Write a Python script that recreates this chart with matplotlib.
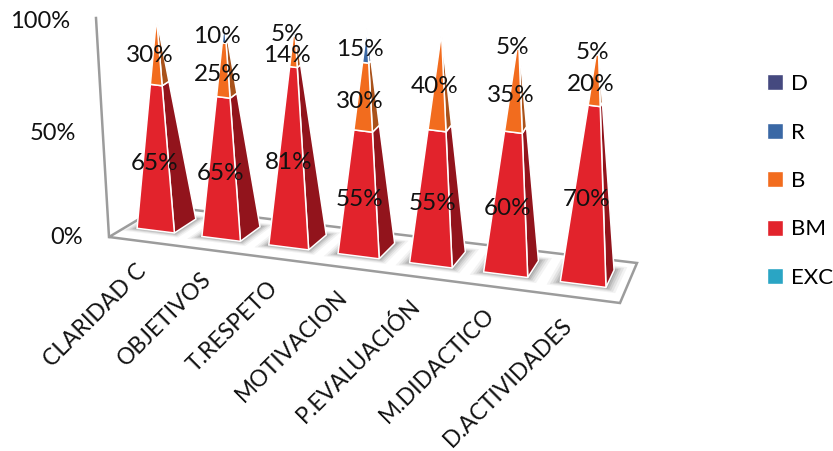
import numpy as np
import matplotlib
matplotlib.use("Agg")
import matplotlib.pyplot as plt
from matplotlib.patches import Polygon, Patch

categories = ["CLARIDAD C", "OBJETIVOS", "T.RESPETO", "MOTIVACION", "P.EVALUACIÓN", "M.DIDACTICO", "D.ACTIVIDADES"]
EXC = [0, 0, 0, 0, 0, 0, 0]
BM = [65, 65, 81, 55, 55, 60, 70]
B = [30, 25, 14, 30, 40, 35, 20]
R = [0, 10, 5, 15, 0, 5, 5]
D = [0, 0, 0, 0, 0, 0, 0]
series_names = ["EXC", "BM", "B", "R", "D"]
series_values = [EXC, BM, B, R, D]
value_ticks = [0, 50, 100]

front = {"EXC": "#2AA5C4", "BM": "#E2232C", "B": "#F26C1E", "R": "#3A68A5", "D": "#45497F"}
side = {"EXC": "#1C7088", "BM": "#92141C", "B": "#A9521A", "R": "#284A78", "D": "#2E3158"}

plt.rcParams["font.family"] = ["Lato", "DejaVu Sans"]
FS = 17

fig = plt.figure(figsize=(8.33, 4.51), dpi=100)
ax = fig.add_axes([0, 0, 1, 1])
ax.set_xlim(0, 833)
ax.set_ylim(451, 0)
ax.axis("off")


def homography(corners):
    src = [(0, 0), (1, 0), (1, 1), (0, 1)]
    A, b = [], []
    for (u, v), (x, y) in zip(src, corners):
        A.append([u, v, 1, 0, 0, 0, -u * x, -v * x]); b.append(x)
        A.append([0, 0, 0, u, v, 1, -u * y, -v * y]); b.append(y)
    return np.append(np.linalg.solve(np.array(A, float), np.array(b, float)), 1).reshape(3, 3)


# floor of the chart box in perspective: front-left, front-right, back-right, back-left
H_floor = homography([(109, 237), (620, 303), (637, 263), (161, 206)])
# box height and sideways lean of the verticals at the same four corners
BOX_H = np.array([219.0, 250.0, 224.0, 190.0])
BOX_LEAN = np.array([-13.0, 12.0, 13.0, -11.0])


def bilinear(c, u, v):
    return (c[0] * (1 - u) + c[1] * u) * (1 - v) + (c[3] * (1 - u) + c[2] * u) * v


def project(u, v, h=0.0):
    p0 = H_floor @ np.array([u, v, 1.0])
    p0 = p0[:2] / p0[2]
    return p0 + np.array([bilinear(BOX_LEAN, u, v), -bilinear(BOX_H, u, v)]) * h


GREY = "#9C9C9C"
ax.add_patch(Polygon([project(0, 0), project(1, 0), project(1, 1), project(0, 1)], closed=True,
                     fc="white", ec=GREY, lw=1.8, zorder=1))
ax.plot(*zip(project(0, 0), project(0, 0, 1)), color=GREY, lw=1.8, zorder=1)

TICK_DY = [0, 6, 4]
for t, dy in zip(value_ticks, TICK_DY):
    x, y = project(0, 0, t / 100)
    ax.text(x - 26, y + dy, f"{t}%", ha="right", va="center", fontsize=FS, color="#111111")

n = len(categories)
HW = 0.29 / n
V0, V1 = 0.31, 0.75
U_SHIFT = -0.005

for i, cat in enumerate(categories):
    uc = (i + 0.5) / n + U_SHIFT
    vc = (V0 + V1) / 2
    fl, fr, br = (uc - HW, V0), (uc + HW, V0), (uc + HW, V1)
    apex = project(uc, vc, 1)

    P_fl, P_fr, P_br = project(*fl), project(*fr), project(*br)
    P_bl = project(uc - HW, V1)
    centre = np.mean([P_fl, P_fr, P_br, P_bl], axis=0)
    for grow, a in zip([1.5, 1.38, 1.27, 1.17, 1.08], [0.07, 0.10, 0.13, 0.17, 0.22]):
        shadow = [centre + (p - centre) * grow for p in (P_fl, P_fr, P_br, P_bl)]
        ax.add_patch(Polygon(shadow, closed=True, fc="#555555", ec="none", alpha=a, zorder=2))

    vals = [s[i] for s in series_values]
    total = sum(vals)
    cum = 0.0
    for name, val in zip(series_names, vals):
        if val == 0:
            continue
        f0, f1 = cum / total, (cum + val) / total
        cum += val

        def edge(P, f):
            return P + (apex - P) * f

        ax.add_patch(Polygon([edge(P_fr, f0), edge(P_br, f0), edge(P_br, f1), edge(P_fr, f1)], closed=True,
                             fc=side[name], ec="white", lw=1.1, zorder=3))
        ax.add_patch(Polygon([edge(P_fl, f0), edge(P_fr, f0), edge(P_fr, f1), edge(P_fl, f1)], closed=True,
                             fc=front[name], ec="white", lw=1.1, zorder=4))
        base_c = project(uc, vc, 0)
        fm = (f0 + f1) / 2
        mid = base_c + (apex - base_c) * fm
        ax.text(mid[0] - 9 + 4 * uc, mid[1] + 14 - 10 * fm, f"{val}%", ha="center", va="center",
                fontsize=FS + 0.5, color="#111111", zorder=6)

    lx, ly = project(uc, 0)
    ax.text(lx + 4 - 12 * uc, ly + 27 - 3 * uc, cat, rotation=45, rotation_mode="anchor", ha="right", va="center",
            fontsize=FS - 0.5, color="#111111", zorder=6)

handles = [Patch(fc=front[s], ec="white", label=s) for s in reversed(series_names)]
ax.legend(handles=handles, loc="center left", bbox_to_anchor=(767 / 833, 1 - 181 / 451), frameon=False,
          fontsize=FS - 1, handlelength=0.72, handleheight=0.72, handletextpad=0.38,
          labelspacing=1.28, borderpad=0, borderaxespad=0)

fig.savefig("out.png", dpi=100)
